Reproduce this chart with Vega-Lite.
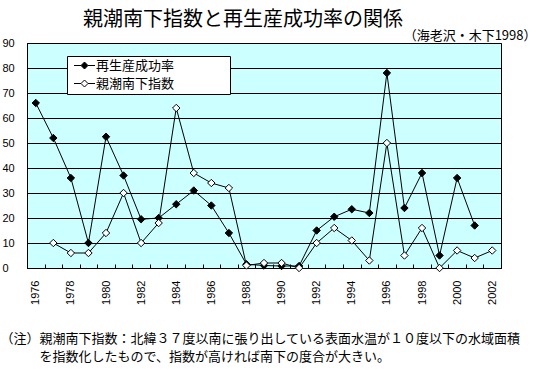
{
  "$schema": "https://vega.github.io/schema/vega-lite/v6.json",
  "width": 474,
  "height": 225,
  "autosize": {"type": "none"},
  "padding": {"left": 27, "top": 43, "right": 45, "bottom": 107},
  "background": "white",
  "title": {
    "text": "親潮南下指数と再生産成功率の関係",
    "anchor": "middle",
    "frame": "group",
    "dx": -21,
    "offset": 0,
    "dy": 1,
    "font": "Noto Sans CJK JP",
    "fontSize": 20,
    "fontWeight": "normal",
    "color": "black"
  },
  "config": {
    "view": {"fill": "#CCFFFF", "stroke": "black", "strokeWidth": 1},
    "axis": {"domainColor": "black", "tickColor": "black", "labelColor": "black", "titleColor": "black"}
  },
  "data": {
    "values": [
      {"year": 1976, "series": "再生産成功率", "value": 66},
      {"year": 1977, "series": "再生産成功率", "value": 52},
      {"year": 1978, "series": "再生産成功率", "value": 36},
      {"year": 1979, "series": "再生産成功率", "value": 10},
      {"year": 1980, "series": "再生産成功率", "value": 52.5},
      {"year": 1981, "series": "再生産成功率", "value": 37},
      {"year": 1982, "series": "再生産成功率", "value": 19.5},
      {"year": 1983, "series": "再生産成功率", "value": 20},
      {"year": 1984, "series": "再生産成功率", "value": 25.5},
      {"year": 1985, "series": "再生産成功率", "value": 31},
      {"year": 1986, "series": "再生産成功率", "value": 25},
      {"year": 1987, "series": "再生産成功率", "value": 14},
      {"year": 1988, "series": "再生産成功率", "value": 1.5},
      {"year": 1989, "series": "再生産成功率", "value": 1},
      {"year": 1990, "series": "再生産成功率", "value": 0.8},
      {"year": 1991, "series": "再生産成功率", "value": 0.8},
      {"year": 1992, "series": "再生産成功率", "value": 15},
      {"year": 1993, "series": "再生産成功率", "value": 20.5},
      {"year": 1994, "series": "再生産成功率", "value": 23.5},
      {"year": 1995, "series": "再生産成功率", "value": 22},
      {"year": 1996, "series": "再生産成功率", "value": 78},
      {"year": 1997, "series": "再生産成功率", "value": 24},
      {"year": 1998, "series": "再生産成功率", "value": 38},
      {"year": 1999, "series": "再生産成功率", "value": 5},
      {"year": 2000, "series": "再生産成功率", "value": 36},
      {"year": 2001, "series": "再生産成功率", "value": 17},
      {"year": 1977, "series": "親潮南下指数", "value": 10},
      {"year": 1978, "series": "親潮南下指数", "value": 6},
      {"year": 1979, "series": "親潮南下指数", "value": 6},
      {"year": 1980, "series": "親潮南下指数", "value": 14},
      {"year": 1981, "series": "親潮南下指数", "value": 30},
      {"year": 1982, "series": "親潮南下指数", "value": 10},
      {"year": 1983, "series": "親潮南下指数", "value": 18},
      {"year": 1984, "series": "親潮南下指数", "value": 64},
      {"year": 1985, "series": "親潮南下指数", "value": 38},
      {"year": 1986, "series": "親潮南下指数", "value": 34},
      {"year": 1987, "series": "親潮南下指数", "value": 32},
      {"year": 1988, "series": "親潮南下指数", "value": 1},
      {"year": 1989, "series": "親潮南下指数", "value": 2},
      {"year": 1990, "series": "親潮南下指数", "value": 2},
      {"year": 1991, "series": "親潮南下指数", "value": 0},
      {"year": 1992, "series": "親潮南下指数", "value": 10},
      {"year": 1993, "series": "親潮南下指数", "value": 16},
      {"year": 1994, "series": "親潮南下指数", "value": 11},
      {"year": 1995, "series": "親潮南下指数", "value": 3},
      {"year": 1996, "series": "親潮南下指数", "value": 50},
      {"year": 1997, "series": "親潮南下指数", "value": 5},
      {"year": 1998, "series": "親潮南下指数", "value": 16},
      {"year": 1999, "series": "親潮南下指数", "value": 0},
      {"year": 2000, "series": "親潮南下指数", "value": 7},
      {"year": 2001, "series": "親潮南下指数", "value": 4},
      {"year": 2002, "series": "親潮南下指数", "value": 7}
    ]
  },
  "encoding": {
    "x": {
      "field": "year",
      "type": "ordinal",
      "scale": {"type": "band", "paddingInner": 0, "paddingOuter": 0},
      "axis": {
        "title": [
          "（注）親潮南下指数：北緯３７度以南に張り出している表面水温が１０度以下の水域面積",
          "\u200b　　　を指数化したもので、指数が高ければ南下の度合が大きい。"
        ],
        "titleAnchor": "start",
        "titleAlign": "left",
        "titleBaseline": "top",
        "titleX": -27,
        "titleY": 64,
        "titleFont": "Noto Sans CJK JP",
        "titleFontSize": 13,
        "titleFontWeight": "normal",
        "titleLineHeight": 18,
        "labelExpr": "datum.value % 2 == 0 ? datum.label : ''",
        "labelAngle": 270,
        "labelPadding": 16,
        "labelOverlap": false,
        "labelFont": "Liberation Sans",
        "labelFontSize": 11,
        "tickBand": "extent",
        "tickSize": -4,
        "grid": false
      }
    },
    "y": {
      "field": "value",
      "type": "quantitative",
      "scale": {"domain": [0, 90], "nice": false},
      "axis": {
        "title": "（海老沢・木下1998）",
        "titleAngle": 0,
        "titleAlign": "right",
        "titleBaseline": "middle",
        "titleX": 509,
        "titleY": -8,
        "titleFont": "Noto Sans CJK JP",
        "titleFontSize": 13,
        "titleFontWeight": "normal",
        "values": [0, 10, 20, 30, 40, 50, 60, 70, 80, 90],
        "grid": true,
        "gridColor": "black",
        "gridOpacity": 1,
        "ticks": false,
        "labelAlign": "left",
        "labelPadding": 25,
        "labelFont": "Liberation Sans",
        "labelFontSize": 11
      }
    }
  },
  "layer": [
    {
      "mark": {"type": "line", "color": "black", "strokeWidth": 1},
      "encoding": {"detail": {"field": "series", "type": "nominal"}}
    },
    {
      "mark": {"type": "point", "shape": "diamond", "size": 55, "stroke": "black", "strokeWidth": 1, "opacity": 1},
      "encoding": {
        "fill": {
          "field": "series",
          "type": "nominal",
          "scale": {"domain": ["再生産成功率", "親潮南下指数"], "range": ["black", "white"]},
          "legend": {
            "orient": "none",
            "legendX": 40,
            "legendY": 13,
            "title": null,
            "fillColor": "white",
            "strokeColor": "black",
            "padding": 3,
            "symbolType": "M-3,0L-1,0M1,0L3,0M-1,0L0,-1L1,0L0,1Z",
            "symbolSize": 49,
            "symbolStrokeColor": "black",
            "symbolStrokeWidth": 1,
            "symbolOpacity": 1,
            "symbolOffset": 8,
            "labelOffset": 5,
            "labelFont": "Noto Sans CJK JP",
            "labelFontSize": 13,
            "labelColor": "black",
            "labelLimit": 300,
            "rowPadding": 4,
            "labelExpr": "datum.label + '　　　　\u200b'"
          }
        }
      }
    }
  ]
}
